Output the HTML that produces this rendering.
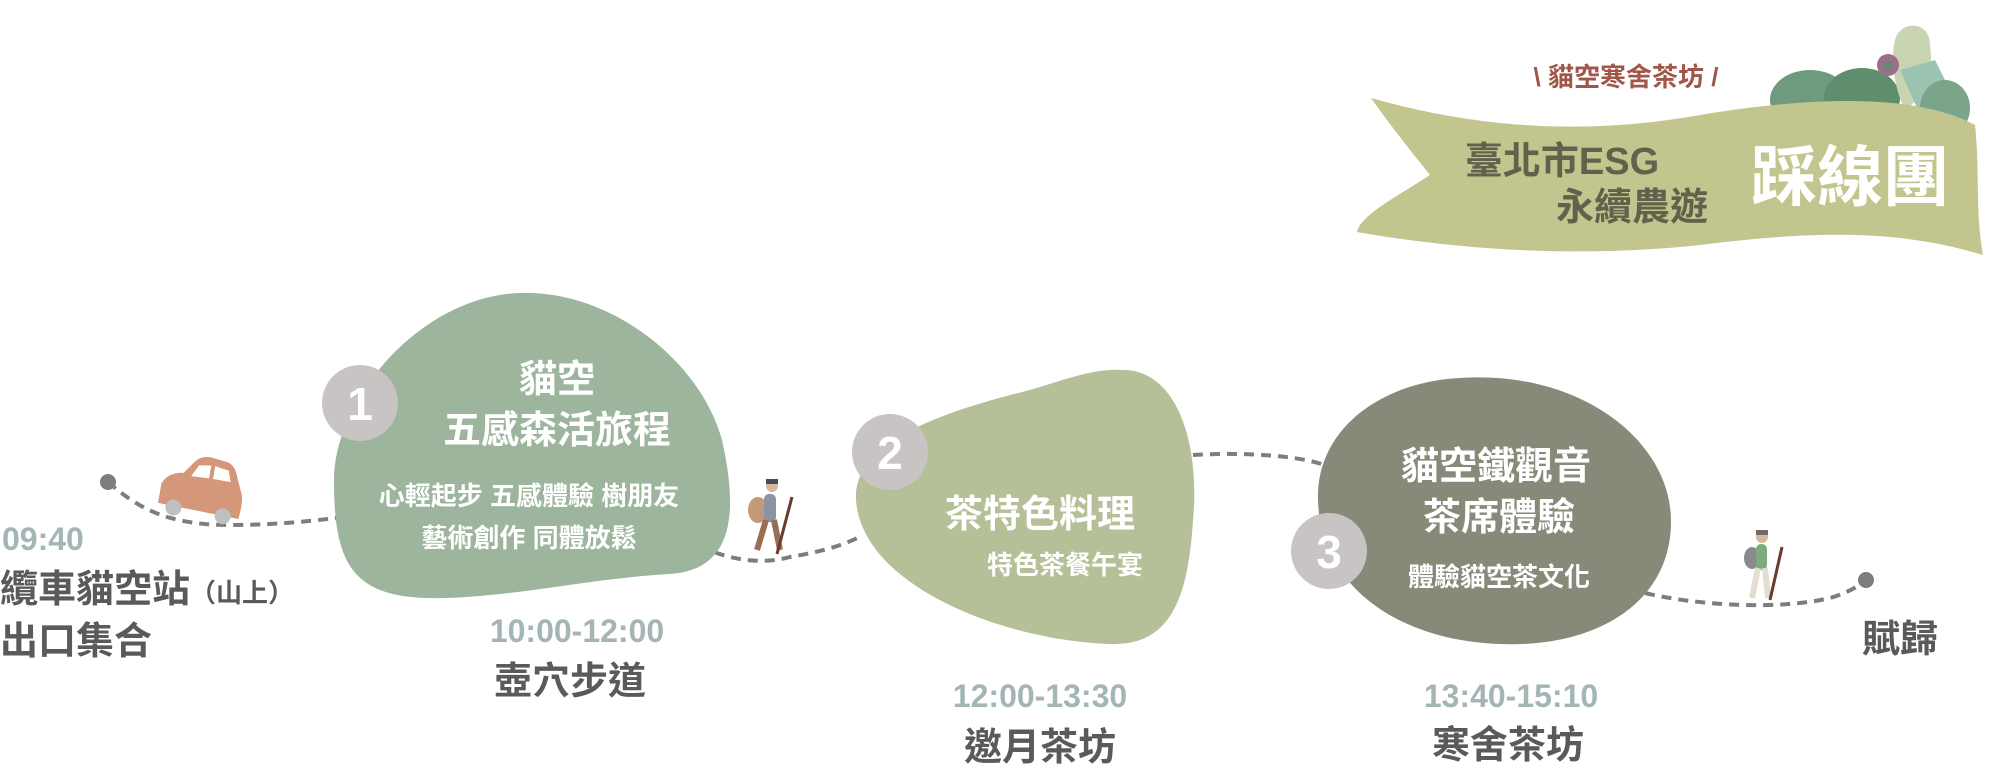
<!DOCTYPE html>
<html><head><meta charset="utf-8"><style>
html,body{margin:0;padding:0;background:#fff;}
svg{display:block}
text{font-family:"Liberation Sans","Noto Sans CJK TC",sans-serif;font-weight:bold;}
</style></head><body>
<svg width="2000" height="773" viewBox="0 0 2000 773" xmlns="http://www.w3.org/2000/svg">
<!-- banner plants -->
<ellipse cx="1810" cy="100" rx="40" ry="30" fill="#6e9a7e"/>
<ellipse cx="1862" cy="98" rx="38" ry="30" fill="#5f8e6f"/>
<path d="M1895 40 C1900 20 1930 20 1930 45 C1935 75 1920 100 1905 110 C1895 90 1890 60 1895 40Z" fill="#c9d4b3"/>
<path d="M1900 70 L1935 60 L1950 90 L1920 115Z" fill="#9cc4b0"/>
<ellipse cx="1945" cy="108" rx="25" ry="28" fill="#7aa58a"/>
<circle cx="1888" cy="65" r="11" fill="#9b6e8a"/><circle cx="1888" cy="65" r="4" fill="#5f8e6f"/>
<!-- banner -->
<path d="M1371 98 C1450 120 1560 140 1700 115 C1820 95 1920 95 1975 125 C1980 170 1975 210 1983 255 C1900 230 1820 230 1700 245 C1580 258 1460 250 1357 232 C1360 215 1400 195 1430 175 C1410 150 1390 125 1371 98Z" fill="#c3c58e"/>
<text x="1626" y="86" font-size="26" fill="#a0574a" text-anchor="middle" font-weight="normal">\ 貓空寒舍茶坊 /</text>
<text x="1562" y="174" font-size="38" fill="#62624c" text-anchor="middle">臺北市ESG</text>
<text x="1632" y="220" font-size="38" fill="#62624c" text-anchor="middle">永續農遊</text>
<text x="1850" y="200" font-size="66" fill="#fff" text-anchor="middle">踩線團</text>
<!-- dashed path -->
<g fill="none" stroke="#7d7d7d" stroke-width="4" stroke-dasharray="10 7">
<path d="M108 482 C140 510 170 525 230 525 C280 525 320 520 344 517"/>
<path d="M699 546 C730 560 760 565 790 557 C820 552 845 545 861 536"/>
<path d="M1193 455 C1240 452 1300 455 1327 466"/>
<path d="M1645 593 C1700 606 1780 610 1830 598 C1850 592 1860 585 1866 580"/>
</g>
<circle cx="108" cy="482" r="8" fill="#7d7d7d"/>
<circle cx="1866" cy="580" r="8" fill="#7d7d7d"/>
<!-- car -->
<g transform="rotate(10 200 495)">
<path d="M160 510 L160 490 Q165 478 180 476 L190 462 Q195 456 205 456 L222 458 Q230 460 234 472 L240 485 Q244 492 242 512 Z" fill="#d4977a"/>
<path d="M194 466 L206 464 L206 477 L188 478Z M210 464 L224 466 L228 477 L210 477Z" fill="#fff"/>
<circle cx="176" cy="512" r="8" fill="#bfbfbf"/><circle cx="226" cy="512" r="8" fill="#bfbfbf"/>
</g>
<!-- hiker1 -->
<g>
<ellipse cx="758" cy="510" rx="10" ry="13" fill="#c29a7a"/>
<rect x="764" y="494" width="12" height="28" rx="5" fill="#8a94a3"/>
<circle cx="772" cy="486" r="6" fill="#d9b89a"/><rect x="766" y="479" width="12" height="5" fill="#4a4a5a"/>
<path d="M766 520 L757 550 M774 520 L780 550" stroke="#9a6e52" stroke-width="6"/>
<path d="M792 497 L777 554" stroke="#6b3a2a" stroke-width="3"/>
</g>
<!-- hiker2 -->
<g>
<ellipse cx="1752" cy="558" rx="8" ry="11" fill="#8a8a8a"/>
<rect x="1756" y="544" width="11" height="26" rx="5" fill="#7cab80"/>
<circle cx="1762" cy="537" r="6" fill="#d9b89a"/><rect x="1756" y="530" width="12" height="5" fill="#6b6b6b"/>
<path d="M1758 568 L1752 598 M1765 568 L1768 598" stroke="#e4ddd0" stroke-width="6"/>
<path d="M1782 547 L1770 600" stroke="#6b3a2a" stroke-width="3"/>
</g>
<!-- blob1 -->
<path d="M520 293 C610 290 700 360 722 440 C740 520 730 570 670 574 C590 578 500 600 427 598 C350 596 334 560 334 480 C334 400 420 296 520 293Z" fill="#9db59d"/>
<circle cx="360" cy="403" r="38" fill="#c8c4c4"/>
<text x="360" y="420" font-size="46" fill="#fff" text-anchor="middle">1</text>
<text x="557" y="392" font-size="38" fill="#fff" text-anchor="middle">貓空</text>
<text x="557" y="443" font-size="38" fill="#fff" text-anchor="middle">五感森活旅程</text>
<text x="529" y="505" font-size="26" fill="#fff" text-anchor="middle" font-weight="normal">心輕起步 五感體驗  樹朋友</text>
<text x="529" y="547" font-size="26" fill="#fff" text-anchor="middle" font-weight="normal">藝術創作 同體放鬆</text>
<!-- blob2 -->
<path d="M1125 370 C1180 372 1200 450 1193 520 C1188 600 1170 646 1110 644 C1000 640 862 585 856 500 C852 440 950 410 1030 390 C1070 378 1095 368 1125 370Z" fill="#b5bf98"/>
<circle cx="890" cy="452" r="38" fill="#c8c4c4"/>
<text x="890" y="469" font-size="46" fill="#fff" text-anchor="middle">2</text>
<text x="1040" y="527" font-size="38" fill="#fff" text-anchor="middle">茶特色料理</text>
<text x="1065" y="574" font-size="26" fill="#fff" text-anchor="middle" font-weight="normal">特色茶餐午宴</text>
<!-- blob3 -->
<path d="M1460 378 C1580 370 1670 440 1671 520 C1672 600 1600 648 1500 644 C1390 640 1320 580 1318 500 C1316 430 1380 382 1460 378Z" fill="#878a79"/>
<circle cx="1329" cy="551" r="38" fill="#c8c4c4"/>
<text x="1329" y="568" font-size="46" fill="#fff" text-anchor="middle">3</text>
<text x="1496" y="479" font-size="38" fill="#fff" text-anchor="middle">貓空鐵觀音</text>
<text x="1499" y="530" font-size="38" fill="#fff" text-anchor="middle">茶席體驗</text>
<text x="1499" y="586" font-size="26" fill="#fff" text-anchor="middle" font-weight="normal">體驗貓空茶文化</text>
<!-- labels -->
<text x="2" y="550" font-size="32" fill="#a3b5b5">09:40</text>
<text x="0" y="602" font-size="38" fill="#5a5a5a">纜車貓空站<tspan font-size="26">（山上）</tspan></text>
<text x="0" y="654" font-size="38" fill="#5a5a5a">出口集合</text>
<text x="577" y="642" font-size="32" fill="#a3b5b5" text-anchor="middle">10:00-12:00</text>
<text x="570" y="694" font-size="38" fill="#5a5a5a" text-anchor="middle">壺穴步道</text>
<text x="1040" y="707" font-size="32" fill="#a3b5b5" text-anchor="middle">12:00-13:30</text>
<text x="1040" y="760" font-size="38" fill="#5a5a5a" text-anchor="middle">邀月茶坊</text>
<text x="1511" y="707" font-size="32" fill="#a3b5b5" text-anchor="middle">13:40-15:10</text>
<text x="1508" y="758" font-size="38" fill="#5a5a5a" text-anchor="middle">寒舍茶坊</text>
<text x="1900" y="652" font-size="38" fill="#5a5a5a" text-anchor="middle">賦歸</text>
</svg>
</body></html>
